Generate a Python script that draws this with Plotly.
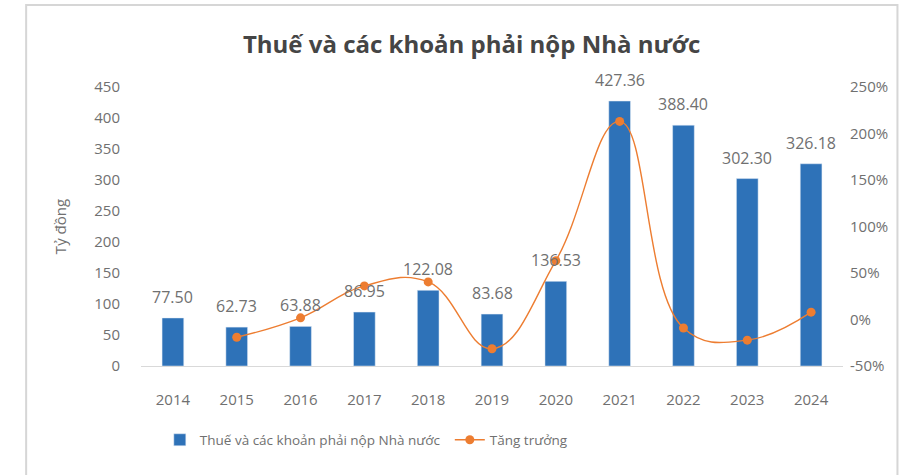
import plotly.graph_objects as go

years = ["2014", "2015", "2016", "2017", "2018", "2019", "2020", "2021", "2022", "2023", "2024"]
tax_values = [77.50, 62.73, 63.88, 86.95, 122.08, 83.68, 136.53, 427.36, 388.40, 302.30, 326.18]
growth_pct = [None, -19.1, 1.8, 36.1, 40.4, -31.5, 63.2, 213.0, -9.1, -22.2, 7.9]
bar_labels = ["77.50", "62.73", "63.88", "86.95", "122.08", "83.68", "136.53", "427.36", "388.40", "302.30", "326.18"]
left_ticks = [0, 50, 100, 150, 200, 250, 300, 350, 400, 450]
right_ticks = [-50, 0, 50, 100, 150, 200, 250]
right_tick_text = ["-50%", "0%", "50%", "100%", "150%", "200%", "250%"]

W, H = 900, 475
L, R, T, B = 141, 850, 87, 366

def px_x(p):
    return (p - L) / (R - L)

def px_y(p):
    return (B - p) / (B - T)

FONT = "Open Sans, Noto Sans, DejaVu Sans, sans-serif"
GREY = "#707070"

fig = go.Figure()
fig.add_trace(go.Bar(
    x=years, y=tax_values, name="Thuế và các khoản phải nộp Nhà nước",
    marker=dict(color="#2E72B8"), width=0.34,
))
fig.add_trace(go.Scatter(
    x=years, y=growth_pct, name="Tăng trưởng", yaxis="y2",
    mode="lines+markers", line=dict(color="#ED7D31", width=1.4, shape="spline", smoothing=1.2),
    marker=dict(color="#ED7D31", size=9), connectgaps=False, cliponaxis=False,
))

# value labels above bars (category index positions)
for i, (v, lab) in enumerate(zip(tax_values, bar_labels)):
    fig.add_annotation(x=i, y=v, xref="x", yref="y", text=lab, showarrow=False,
                       yanchor="bottom", yshift=8,
                       font=dict(size=16, color=GREY, family=FONT))

fig.update_layout(
    width=W, height=H,
    margin=dict(l=L, r=W - R, t=T, b=H - B),
    paper_bgcolor="white", plot_bgcolor="white",
    font=dict(family=FONT, color=GREY, size=15),
    title=dict(text="<b>Thuế và các khoản phải nộp Nhà nước</b>", x=0.524, xanchor="center",
               y=1 - 45 / H, yanchor="middle", font=dict(size=24, color="#454545", family=FONT)),
    xaxis=dict(type="category", categoryorder="array", categoryarray=years,
               range=[-0.5, len(years) - 0.5],
               showgrid=False, showline=True, linecolor="#d9d9d9", linewidth=1,
               ticks="", tickfont=dict(size=15, color=GREY), ticklabelstandoff=20),
    yaxis=dict(range=[0, 450], tickvals=left_ticks, showgrid=False, zeroline=False, showline=False,
               tickfont=dict(size=15, color=GREY), ticklabelstandoff=20,
               title=dict(text="Tỷ đồng", font=dict(size=15, color=GREY), standoff=24)),
    yaxis2=dict(range=[-50, 250], tickvals=right_ticks, ticktext=right_tick_text, overlaying="y",
                side="right", showgrid=False, zeroline=False, showline=False,
                tickfont=dict(size=15, color=GREY), ticklabelstandoff=6),
    legend=dict(orientation="h", x=px_x(160), xanchor="left", y=px_y(440), yanchor="middle",
                font=dict(size=13.5, color=GREY), itemwidth=30, traceorder="normal",
                entrywidth=245, entrywidthmode="pixels"),
    bargap=0.5,
    showlegend=True,
)

fig.add_shape(type="rect", xref="paper", yref="paper",
              x0=px_x(25), x1=px_x(905), y0=px_y(480), y1=px_y(5),
              line=dict(color="#d6d6d6", width=2), fillcolor="rgba(0,0,0,0)", layer="below")

fig.write_html("out.html")
